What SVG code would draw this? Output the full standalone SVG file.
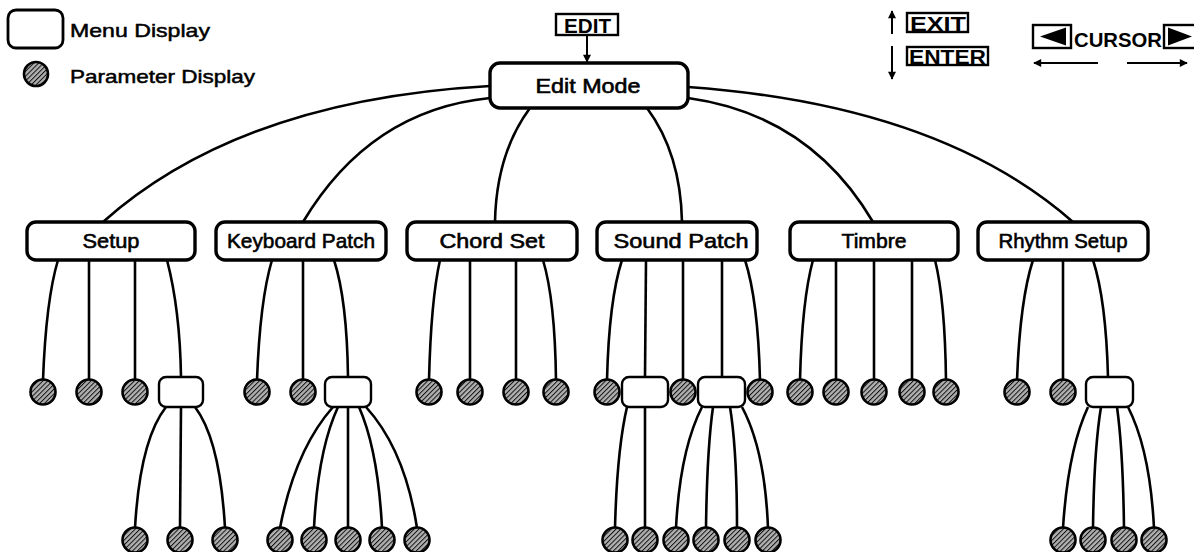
<svg xmlns="http://www.w3.org/2000/svg" width="1194" height="552" viewBox="0 0 1194 552">
<style>
.box{fill:#fff;stroke:#000;stroke-width:3.4}
.sub{fill:#fff;stroke:#000;stroke-width:2.4}
.par{fill:url(#hatch);stroke:#000;stroke-width:2.6}
.lbl{font-family:"Liberation Sans",Arial,sans-serif;font-size:21px;fill:#000;stroke:#000;stroke-width:0.6;text-anchor:middle}
.leg{font-family:"Liberation Sans",Arial,sans-serif;font-size:19px;fill:#000;stroke:#000;stroke-width:0.5}
.key{font-family:"Liberation Sans",Arial,sans-serif;font-size:20px;font-weight:bold;fill:#000}
.keybox{fill:#fff;stroke:#000;stroke-width:2.4}
#connectors path{fill:none;stroke:#000;stroke-width:2.6}
.thin{fill:none;stroke:#000;stroke-width:2}
</style>
<defs>
<pattern id="hatch" width="3.4" height="3.4" patternUnits="userSpaceOnUse" patternTransform="rotate(45)">
<rect width="3.4" height="3.4" fill="#b0b0b0"/>
<line x1="0" y1="0" x2="0" y2="3.4" stroke="#111" stroke-width="2"/>
</pattern>
<marker id="ah" viewBox="0 0 10 10" refX="9" refY="5" markerWidth="9" markerHeight="8" orient="auto-start-reverse" markerUnits="userSpaceOnUse">
<path d="M0,0 L10,5 L0,10 z" fill="#000"/>
</marker>
</defs>

<g id="legend">
<rect x="8" y="10" width="55" height="38" rx="8" class="box" style="stroke-width:2.8"/>
<text x="70" y="37" class="leg" textLength="140" lengthAdjust="spacingAndGlyphs">Menu  Display</text>
<circle cx="36" cy="74" r="12" class="par"/>
<text x="70" y="83" class="leg" textLength="185" lengthAdjust="spacingAndGlyphs">Parameter  Display</text>
</g>

<g id="keys">
<rect x="556" y="14" width="62" height="21" class="keybox"/>
<text x="564" y="33" class="key" textLength="47" lengthAdjust="spacingAndGlyphs">EDIT</text>
<path d="M587,35 L587,62" class="thin" marker-end="url(#ah)"/>
<path d="M892,34 L892,11" class="thin" marker-end="url(#ah)"/>
<rect x="907" y="13" width="61" height="19" class="keybox"/>
<text x="910" y="31" class="key" textLength="56" lengthAdjust="spacingAndGlyphs">EXIT</text>
<path d="M892,46 L892,79" class="thin" marker-end="url(#ah)"/>
<rect x="907" y="47" width="81" height="18" class="keybox"/>
<text x="909" y="64" class="key" textLength="77" lengthAdjust="spacingAndGlyphs">ENTER</text>
<rect x="1033" y="25" width="38" height="23" class="keybox"/>
<path d="M1040,36.5 L1066,27.5 L1066,45.5 z" fill="#000"/>
<text x="1074" y="47" class="key" style="font-size:21px" textLength="88" lengthAdjust="spacingAndGlyphs">CURSOR</text>
<rect x="1164" y="25" width="36" height="23" class="keybox"/>
<path d="M1168,27.5 L1192,36.5 L1168,45.5 z" fill="#000"/>
<path d="M1098,63 L1034,63" class="thin" marker-end="url(#ah)"/>
<path d="M1127,63 L1187,63" class="thin" marker-end="url(#ah)"/>
</g>

<g id="connectors">
<path d="M490,86 Q240,100 103,222"/>
<path d="M490,98 Q370,110 303,222"/>
<path d="M530,108 C510,135 496,170 495,222"/>
<path d="M647,108 C667,135 681,170 682,222"/>
<path d="M688,98 Q810,115 873,222"/>
<path d="M688,87 Q940,105 1073,222"/>

<path d="M58,260 Q46,300 43,380"/>
<path d="M89,260 L89,380"/>
<path d="M135,260 L135,380"/>
<path d="M167,260 Q180,310 181,377"/>
<path d="M166,407 Q140,440 135,528"/>
<path d="M181,407 L180,528"/>
<path d="M195,407 Q220,440 225,528"/>

<path d="M272,260 Q260,300 257,380"/>
<path d="M303,260 L303,380"/>
<path d="M334,260 Q347,300 348,377"/>
<path d="M333,407 Q295,450 280,528"/>
<path d="M338,407 Q318,450 314,528"/>
<path d="M348,407 L348,528"/>
<path d="M359,407 Q378,450 382,528"/>
<path d="M366,407 Q405,450 417,528"/>

<path d="M440,260 Q431,300 429,380"/>
<path d="M470,260 L470,380"/>
<path d="M516,260 L516,380"/>
<path d="M543,260 Q555,300 556,380"/>

<path d="M622,260 Q609,300 607,380"/>
<path d="M646,260 L645,377"/>
<path d="M683,260 L683,380"/>
<path d="M722,260 L722,377"/>
<path d="M745,260 Q758,300 760,380"/>
<path d="M627,407 Q617,450 615,528"/>
<path d="M645,407 L645,528"/>
<path d="M702,407 Q680,450 676,528"/>
<path d="M713,407 Q707,450 706,528"/>
<path d="M730,407 Q737,450 737,528"/>
<path d="M742,407 Q765,450 768,528"/>

<path d="M813,260 Q802,300 800,380"/>
<path d="M836,260 L836,380"/>
<path d="M874,260 L874,380"/>
<path d="M912,260 L912,380"/>
<path d="M935,260 Q945,300 946,380"/>

<path d="M1033,260 Q1020,300 1017,380"/>
<path d="M1063,260 L1063,380"/>
<path d="M1093,260 Q1106,300 1108,377"/>
<path d="M1088,407 Q1068,450 1063,528"/>
<path d="M1101,407 Q1094,450 1093,528"/>
<path d="M1117,407 Q1123,450 1124,528"/>
<path d="M1128,407 Q1150,450 1154,528"/>
</g>

<g id="edit-mode">
<rect x="490" y="63" width="198" height="45" rx="10" class="box"/>
<text x="588" y="93" class="lbl" style="font-size:21px" textLength="105" lengthAdjust="spacingAndGlyphs">Edit Mode</text>
</g>

<g id="setup">
<rect x="27" y="222" width="168" height="38" rx="9" class="box"/>
<text x="111" y="248" class="lbl" textLength="57" lengthAdjust="spacingAndGlyphs">Setup</text>
</g>
<g id="keyboard-patch">
<rect x="216" y="222" width="170" height="38" rx="9" class="box"/>
<text x="301" y="248" class="lbl" textLength="148" lengthAdjust="spacingAndGlyphs">Keyboard Patch</text>
</g>
<g id="chord-set">
<rect x="407" y="222" width="170" height="38" rx="9" class="box"/>
<text x="492" y="248" class="lbl" textLength="105" lengthAdjust="spacingAndGlyphs">Chord Set</text>
</g>
<g id="sound-patch">
<rect x="597" y="222" width="160" height="38" rx="9" class="box"/>
<text x="681" y="248" class="lbl" textLength="135" lengthAdjust="spacingAndGlyphs">Sound Patch</text>
</g>
<g id="timbre">
<rect x="790" y="222" width="168" height="38" rx="9" class="box"/>
<text x="874" y="248" class="lbl" textLength="65" lengthAdjust="spacingAndGlyphs">Timbre</text>
</g>
<g id="rhythm-setup">
<rect x="978" y="222" width="170" height="38" rx="9" class="box"/>
<text x="1063" y="248" class="lbl" textLength="129" lengthAdjust="spacingAndGlyphs">Rhythm Setup</text>
</g>

<g id="sub-menus">
<rect id="setup-sub" x="159" y="377" width="44" height="30" rx="7" class="sub"/>
<rect id="keyboard-sub" x="325" y="377" width="46" height="30" rx="7" class="sub"/>
<rect id="sound-sub1" x="622" y="377" width="46" height="30" rx="7" class="sub"/>
<rect id="sound-sub2" x="698" y="377" width="47" height="30" rx="7" class="sub"/>
<rect id="rhythm-sub" x="1086" y="377" width="47" height="30" rx="7" class="sub"/>
</g>

<g id="parameters">
<circle cx="43" cy="392" r="12.5" class="par"/>
<circle cx="89" cy="392" r="12.5" class="par"/>
<circle cx="135" cy="392" r="12.5" class="par"/>
<circle cx="135" cy="540" r="12.5" class="par"/>
<circle cx="180" cy="540" r="12.5" class="par"/>
<circle cx="225" cy="540" r="12.5" class="par"/>

<circle cx="257" cy="392" r="12.5" class="par"/>
<circle cx="303" cy="392" r="12.5" class="par"/>
<circle cx="280" cy="540" r="12.5" class="par"/>
<circle cx="314" cy="540" r="12.5" class="par"/>
<circle cx="348" cy="540" r="12.5" class="par"/>
<circle cx="382" cy="540" r="12.5" class="par"/>
<circle cx="417" cy="540" r="12.5" class="par"/>

<circle cx="429" cy="392" r="12.5" class="par"/>
<circle cx="470" cy="392" r="12.5" class="par"/>
<circle cx="516" cy="392" r="12.5" class="par"/>
<circle cx="556" cy="392" r="12.5" class="par"/>

<circle cx="607" cy="392" r="12.5" class="par"/>
<circle cx="683" cy="392" r="12.5" class="par"/>
<circle cx="760" cy="392" r="12.5" class="par"/>
<circle cx="615" cy="540" r="12.5" class="par"/>
<circle cx="645" cy="540" r="12.5" class="par"/>
<circle cx="676" cy="540" r="12.5" class="par"/>
<circle cx="706" cy="540" r="12.5" class="par"/>
<circle cx="737" cy="540" r="12.5" class="par"/>
<circle cx="768" cy="540" r="12.5" class="par"/>

<circle cx="800" cy="392" r="12.5" class="par"/>
<circle cx="836" cy="392" r="12.5" class="par"/>
<circle cx="874" cy="392" r="12.5" class="par"/>
<circle cx="912" cy="392" r="12.5" class="par"/>
<circle cx="946" cy="392" r="12.5" class="par"/>

<circle cx="1017" cy="392" r="12.5" class="par"/>
<circle cx="1063" cy="392" r="12.5" class="par"/>
<circle cx="1063" cy="540" r="12.5" class="par"/>
<circle cx="1093" cy="540" r="12.5" class="par"/>
<circle cx="1124" cy="540" r="12.5" class="par"/>
<circle cx="1154" cy="540" r="12.5" class="par"/>
</g>
</svg>
